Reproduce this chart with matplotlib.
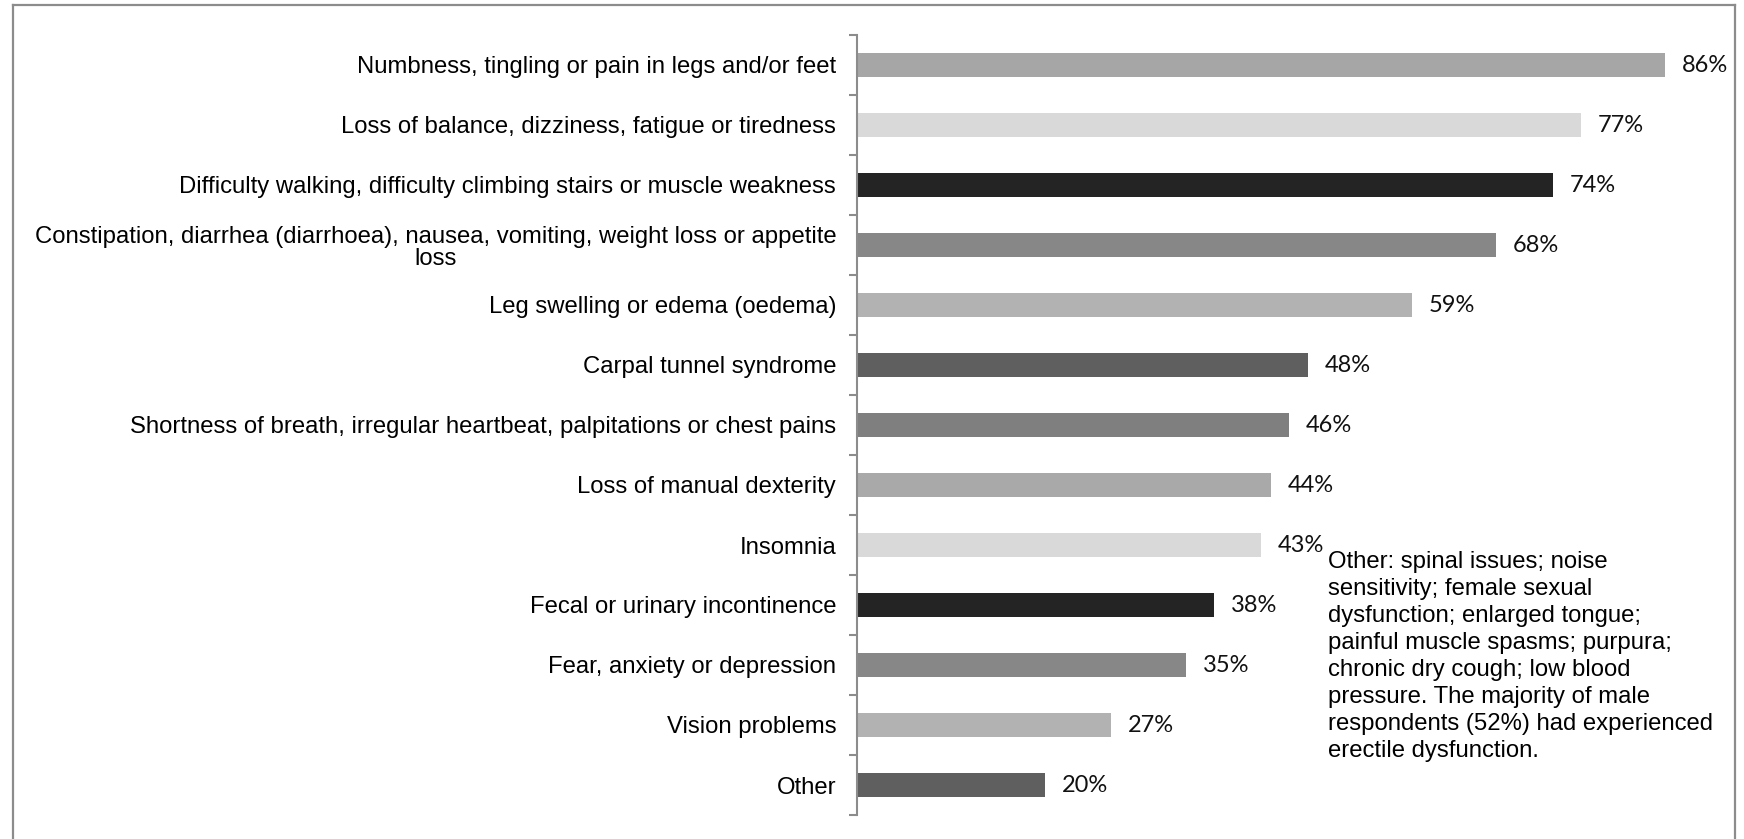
import matplotlib.pyplot as plt
from matplotlib.lines import Line2D

# symptom categories, top to bottom
symptoms = [
    "Numbness, tingling or pain in legs and/or feet",
    "Loss of balance, dizziness, fatigue or tiredness",
    "Difficulty walking, difficulty climbing stairs or muscle weakness",
    "Constipation, diarrhea (diarrhoea), nausea, vomiting, weight loss or appetite\nloss",
    "Leg swelling or edema (oedema)",
    "Carpal tunnel syndrome",
    "Shortness of breath, irregular heartbeat, palpitations or chest pains",
    "Loss of manual dexterity",
    "Insomnia",
    "Fecal or urinary incontinence",
    "Fear, anxiety or depression",
    "Vision problems",
    "Other",
]
percent = [86, 77, 74, 68, 59, 48, 46, 44, 43, 38, 35, 27, 20]
bar_colors = ["#a6a6a6", "#d9d9d9", "#242424", "#878787", "#b2b2b2", "#5f5f5f",
              "#7f7f7f", "#a9a9a9", "#d9d9d9", "#242424", "#878787", "#b2b2b2", "#5f5f5f"]

note = ("Other: spinal issues; noise\nsensitivity; female sexual\ndysfunction; enlarged tongue;\n"
        "painful muscle spasms; purpura;\nchronic dry cough; low blood\n"
        "pressure. The majority of male\nrespondents (52%) had experienced\nerectile dysfunction.")

W, H = 1744, 839
fig = plt.figure(figsize=(W / 100, H / 100), dpi=100)

# outer frame (bottom edge is cut off in the original)
frame_kw = dict(color="#8c8c8c", lw=1.6, transform=fig.transFigure)
fig.add_artist(Line2D([13 / W, 13 / W], [0, 1 - 5 / H], **frame_kw))
fig.add_artist(Line2D([13 / W, 1735 / W], [1 - 5 / H, 1 - 5 / H], **frame_kw))
fig.add_artist(Line2D([1735 / W, 1735 / W], [0, 1 - 5 / H], **frame_kw))

left, right = 857 / W, 1735 / W
top, bottom = 1 - 35 / H, 1 - 815 / H
ax = fig.add_axes([left, bottom, right - left, top - bottom])

y = list(range(len(symptoms)))
ax.barh(y, percent, height=0.39, color=bar_colors)
ax.set_xlim(0, 878 / 9.40)
ax.set_ylim(len(symptoms) - 0.5, -0.5)

for yi, v in zip(y, percent):
    ax.annotate(f"{v}%", (v, yi), xytext=(12, 0), textcoords="offset points",
                va="center", ha="left", fontsize=17, family="Lato", color="#111111")

ax.set_yticks(y)
ax.set_yticklabels(symptoms, fontsize=17.2, family="Liberation Sans", color="black",
                   multialignment="center", linespacing=1.02)
ax.tick_params(axis="y", which="major", length=0, pad=15)
ax.set_yticks([i - 0.5 for i in range(len(symptoms) + 1)], minor=True)
ax.tick_params(axis="y", which="minor", length=6, width=1.5, color="#8c8c8c")

ax.set_xticks([])
for s in ["top", "right", "bottom"]:
    ax.spines[s].set_visible(False)
ax.spines["left"].set_color("#8c8c8c")
ax.spines["left"].set_linewidth(1.5)

fig.text(1328 / W, 1 - 551 / H, note, fontsize=17.2, family="Liberation Sans",
         va="top", ha="left", linespacing=1.29, color="black")

fig.savefig("out.png", dpi=100)
